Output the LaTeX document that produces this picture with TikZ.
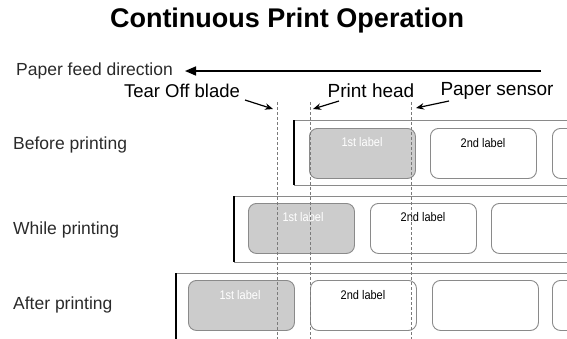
\documentclass[tikz,border=0pt]{standalone}
\usepackage{fontspec}
\setmainfont{Liberation Sans}
\newfontfamily\narrowfont[FakeStretch=0.88]{Liberation Sans}
\usetikzlibrary{arrows.meta}
\definecolor{edgegray}{HTML}{8A8A8A}
\definecolor{fillgray}{HTML}{CCCCCC}
\definecolor{txtgray}{HTML}{2A2A2A}
\definecolor{dashgray}{HTML}{7A7A7A}
\begin{document}
\begin{tikzpicture}[x=1pt,y=-1pt,
  lbl/.style={draw=edgegray, line width=0.9pt, rounded corners=8pt,
    minimum width=106pt, minimum height=50pt, inner sep=0pt, anchor=north west},
  usedlbl/.style={lbl, fill=fillgray},
  freshlbl/.style={lbl, fill=white},
  lbltxt/.style={font=\narrowfont\fontsize{12.5}{14}\selectfont, inner sep=0pt},
  whitetxt/.style={lbltxt, text=white},
  blacktxt/.style={lbltxt, text=black},
  rowtxt/.style={font=\fontsize{17.5}{20}\selectfont, text=txtgray, inner sep=0pt, anchor=west},
  parttxt/.style={font=\fontsize{19}{22}\selectfont, text=black, inner sep=0pt},
  stripedge/.style={draw=edgegray, line width=0.9pt},
  leftedge/.style={draw=black, line width=1.8pt},
  dashline/.style={draw=dashgray, line width=0.9pt, dash pattern=on 3pt off 2pt},
  ptr/.style={draw=black, line width=1.2pt, -{Stealth[length=8pt,width=6.5pt]}},
  feedarrow/.style={draw=black, line width=1.6pt, -{Triangle[length=11pt,width=9pt]}}
]
\useasboundingbox (0,0) rectangle (567,338);
\clip (0,0) rectangle (567,338);

% title
\node[font=\bfseries\fontsize{27}{30}\selectfont, inner sep=0pt] (title) at (287,21) {Continuous Print Operation};

% feed direction
\node[rowtxt] (feed) at (16,71) {Paper feed direction};
\coordinate (feedTail) at (541,71);
\coordinate (feedTip) at (185,71);
\draw[feedarrow] (feedTail) -- (feedTip);

% part labels
\node[parttxt, font=\fontsize{18.5}{22}\selectfont] (tear) at (182,91) {Tear Off blade};
\node[parttxt] (head) at (371,91) {Print head};
\node[parttxt] (sensor) at (497,91) {Paper sensor};

% row labels
\node[rowtxt] (before) at (13,145) {Before printing};
\node[rowtxt] (while) at (13,230) {While printing};
\node[rowtxt] (after) at (13,305) {After printing};

% strips
\draw[stripedge] (294,120) -- (575,120);
\draw[stripedge] (294,185) -- (575,185);
\draw[leftedge] (294,120) -- (294,185);
\draw[stripedge] (234,196) -- (575,196);
\draw[stripedge] (234,262) -- (575,262);
\draw[leftedge] (234,196) -- (234,262);
\draw[stripedge] (176,273) -- (575,273);
\draw[leftedge] (176,273) -- (176,345);

% row 1 labels
\node[usedlbl] (r1a) at (309,128) {};
\node[freshlbl] (r1b) at (430,128) {};
\node[freshlbl] (r1c) at (552,128) {};
% row 2 labels
\node[usedlbl] (r2a) at (248,203) {};
\node[freshlbl] (r2b) at (370,203) {};
\node[freshlbl] (r2c) at (491,203) {};
% row 3 labels
\node[usedlbl] (r3a) at (188,280) {};
\node[freshlbl] (r3b) at (310,280) {};
\node[freshlbl] (r3c) at (432,280) {};
\node[freshlbl] (r3d) at (552,280) {};

% label texts
\node[whitetxt] (t1a) at (362,142) {1st label};
\node[blacktxt] (t1b) at (483,143) {2nd label};
\node[whitetxt] (t2a) at (303,217) {1st label};
\node[blacktxt] (t2b) at (423,217) {2nd label};
\node[whitetxt] (t3a) at (240,295) {1st label};
\node[blacktxt] (t3b) at (363,295) {2nd label};

% dashed reference lines
\coordinate (bladeTop) at (277,102);
\coordinate (headTop) at (310,102);
\coordinate (sensorTop) at (411,102);
\draw[dashline] (bladeTop) -- (277,345);
\draw[dashline] (headTop) -- (310,345);
\draw[dashline] (sensorTop) -- (411,345);

% pointer arrows
\coordinate (tearTail) at (245,100);
\coordinate (tearTip) at (273,109);
\coordinate (headTail) at (339,101);
\coordinate (headTip) at (313,109);
\coordinate (sensorTail) at (449,101);
\coordinate (sensorTip) at (416,108);
\draw[ptr] (tearTail) -- (tearTip);
\draw[ptr] (headTail) -- (headTip);
\draw[ptr] (sensorTail) -- (sensorTip);
\end{tikzpicture}
\end{document}
